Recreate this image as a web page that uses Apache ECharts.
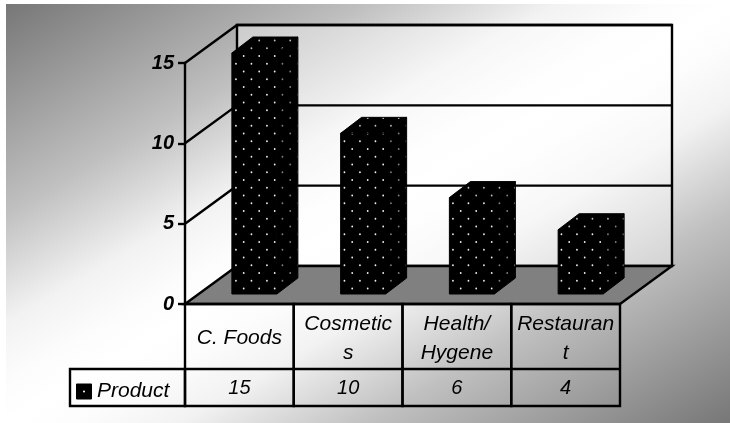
<!DOCTYPE html>
<html>
<head>
<meta charset="utf-8">
<style>html,body{margin:0;padding:0;background:#fff}#c{width:730px;height:423px}</style>
<script src="https://cdn.jsdelivr.net/npm/echarts@6/dist/echarts.min.js"></script>
</head>
<body>
<div id="c"></div>
<script>
// Chart content
const categories = ['C. Foods', 'Cosmetic\ns', 'Health/\nHygene', 'Restauran\nt'];
const productValues = [15, 10, 6, 4];
const yTicks = [0, 5, 10, 15];
const seriesName = 'Product';

// Oblique projection of the box and the columns
const FONT = '"Liberation Sans", Arial, sans-serif';
const WALL_DX = 52, WALL_DY = -38;
const BAR_SHIFT_X = 15, BAR_SHIFT_Y = -10, BAR_WIDTH = 45, BAR_DX = 21, BAR_DY = -16;
const ROW1 = 65, ROW2 = 37, LEGEND_CELL = 115;
const RULE = 2.4;

// Dotted fill: a staggered lattice of small dots on black
function dotTile(dotColor) {
  const period = 15.5, size = 31;
  const cv = document.createElement('canvas');
  cv.width = cv.height = size;
  const g = cv.getContext('2d');
  g.fillStyle = '#000';
  g.fillRect(0, 0, size, size);
  g.fillStyle = dotColor;
  const ox = 11.2, oy = 9.5;
  for (let i = -1; i < 3; i++) {
    for (let j = -1; j < 3; j++) {
      [[0, 0], [7.75, 7.75]].forEach(function (d) {
        g.beginPath();
        g.arc(ox + d[0] + i * period, oy + d[1] + j * period, 0.9, 0, Math.PI * 2);
        g.fill();
      });
    }
  }
  return { image: cv, repeat: 'repeat' };
}
const frontFill = dotTile('#f0f0f0');
const sideFill = dotTile('#808080');
const topFill = dotTile('#c0c0c0');

const lineStyle = { stroke: '#000', lineWidth: RULE, fill: null };

// Back wall, side wall, floor and their grid lines
function renderBox(params, api) {
  const v = api.value(0);
  const y = api.coord([0, v])[1];
  const cs = params.coordSys;
  const x0 = cs.x, x1 = cs.x + cs.width, base = cs.y + cs.height;
  const kids = [];
  if (v === 0) {
    kids.push({
      type: 'polygon',
      shape: { points: [[x0 + WALL_DX, cs.y + WALL_DY], [x1 + WALL_DX, cs.y + WALL_DY], [x1 + WALL_DX, base + WALL_DY], [x0 + WALL_DX, base + WALL_DY]] },
      style: { fill: 'rgba(255,255,255,0.38)', stroke: '#000', lineWidth: RULE }
    });
    kids.push({
      type: 'polygon',
      shape: { points: [[x0, base], [x0 + WALL_DX, base + WALL_DY], [x1 + WALL_DX, base + WALL_DY], [x1, base]] },
      style: { fill: '#808080', stroke: '#000', lineWidth: RULE, lineJoin: 'miter' }
    });
  } else {
    kids.push({
      type: 'polyline',
      shape: { points: [[x0, y], [x0 + WALL_DX, y + WALL_DY], [x1 + WALL_DX, y + WALL_DY]] },
      style: lineStyle
    });
  }
  return { type: 'group', children: kids };
}

// One dotted column in oblique projection
function renderBar(params, api) {
  const top = api.coord([api.value(0), api.value(1)]);
  const bottom = api.coord([api.value(0), 0]);
  const xl = top[0] + BAR_SHIFT_X - BAR_WIDTH / 2, xr = xl + BAR_WIDTH;
  const yt = top[1] + BAR_SHIFT_Y, yb = bottom[1] + BAR_SHIFT_Y;
  const edge = { stroke: '#000', lineWidth: 1 };
  return {
    type: 'group',
    children: [
      { type: 'polygon', shape: { points: [[xr, yt], [xr + BAR_DX, yt + BAR_DY], [xr + BAR_DX, yb + BAR_DY], [xr, yb]] }, style: Object.assign({ fill: sideFill }, edge) },
      { type: 'polygon', shape: { points: [[xl, yt], [xl + BAR_DX, yt + BAR_DY], [xr + BAR_DX, yt + BAR_DY], [xr, yt]] }, style: Object.assign({ fill: topFill }, edge) },
      { type: 'rect', shape: { x: xl, y: yt, width: BAR_WIDTH, height: yb - yt }, style: Object.assign({ fill: frontFill }, edge) }
    ]
  };
}

// Data table cells below the floor, one column per category
function renderTable(params, api) {
  const cs = params.coordSys;
  const i = api.value(0);
  const band = cs.width / categories.length;
  const xl = cs.x + band * i, base = cs.y + cs.height;
  return {
    type: 'group',
    children: [
      { type: 'rect', shape: { x: xl, y: base, width: band, height: ROW1 + ROW2 }, style: lineStyle },
      { type: 'line', shape: { x1: xl, y1: base + ROW1, x2: xl + band, y2: base + ROW1 }, style: lineStyle },
      {
        type: 'text',
        style: {
          x: xl + band / 2, y: base + ROW1 + ROW2 / 2 + 1,
          text: String(api.value(1)),
          align: 'center', verticalAlign: 'middle',
          font: 'italic 20px ' + FONT, fill: '#000'
        }
      }
    ]
  };
}

const chart = echarts.init(document.getElementById('c'), null, { renderer: 'canvas' });
chart.setOption({
  animation: false,
  backgroundColor: '#fff',
  graphic: [
    {
      type: 'rect', z: -5, silent: true,
      shape: { x: 6, y: 4, width: 724, height: 419 },
      style: {
        fill: new echarts.graphic.LinearGradient(186.4, -100.3, 549.6, 527.3, [
          { offset: 0, color: '#777777' },
          { offset: 0.25, color: '#c0c0c0' },
          { offset: 0.38, color: '#f2f2f2' },
          { offset: 0.45, color: '#fcfcfc' },
          { offset: 0.5, color: '#ffffff' },
          { offset: 0.55, color: '#fcfcfc' },
          { offset: 0.62, color: '#f2f2f2' },
          { offset: 0.75, color: '#c0c0c0' },
          { offset: 1, color: '#777777' }
        ], true)
      }
    },
    {
      type: 'rect', z: 10, silent: true,
      shape: { x: 70, y: 369, width: LEGEND_CELL, height: ROW2 },
      style: lineStyle
    }
  ],
  legend: {
    left: 76, top: 381, orient: 'horizontal', padding: 0,
    itemWidth: 16, itemHeight: 16, itemGap: 5,
    selectedMode: false,
    data: [{
      name: seriesName,
      icon: 'path://M1 0H15Q16 0 16 1V15Q16 16 15 16H1Q0 16 0 15V1Q0 0 1 0ZM8 7A1 1 0 0 0 8 9A1 1 0 0 0 8 7Z',
      itemStyle: { color: '#000' }
    }],
    textStyle: { fontFamily: FONT, fontStyle: 'italic', fontSize: 21, color: '#000', padding: 0 }
  },
  grid: { left: 185, right: 110, top: 63, bottom: 119, containLabel: false },
  xAxis: {
    type: 'category',
    data: categories,
    axisLine: { show: false },
    axisTick: { show: false },
    axisLabel: {
      interval: 0, margin: 34.5, verticalAlign: 'middle',
      fontFamily: FONT, fontStyle: 'italic', fontSize: 21, lineHeight: 29, color: '#000'
    }
  },
  yAxis: {
    type: 'value', min: 0, max: 15, interval: 5,
    splitLine: { show: false },
    axisLine: { show: true, onZero: false, lineStyle: { color: '#000', width: RULE } },
    axisTick: { show: true, length: 7, lineStyle: { color: '#000', width: RULE } },
    axisLabel: { margin: 11, fontFamily: FONT, fontStyle: 'italic', fontWeight: 'bold', fontSize: 20, color: '#000' }
  },
  series: [
    { type: 'custom', name: 'box', z: 1, silent: true, renderItem: renderBox, encode: { y: 0 }, data: yTicks.map(function (t) { return [t]; }), clip: false },
    { type: 'custom', name: seriesName, z: 3, silent: true, renderItem: renderBar, encode: { x: 0, y: 1 }, data: productValues.map(function (v, i) { return [i, v]; }), clip: false },
    { type: 'custom', name: 'table', z: 4, silent: true, renderItem: renderTable, encode: { x: 0 }, data: productValues.map(function (v, i) { return [i, v]; }), clip: false }
  ]
});
</script>
</body>
</html>
